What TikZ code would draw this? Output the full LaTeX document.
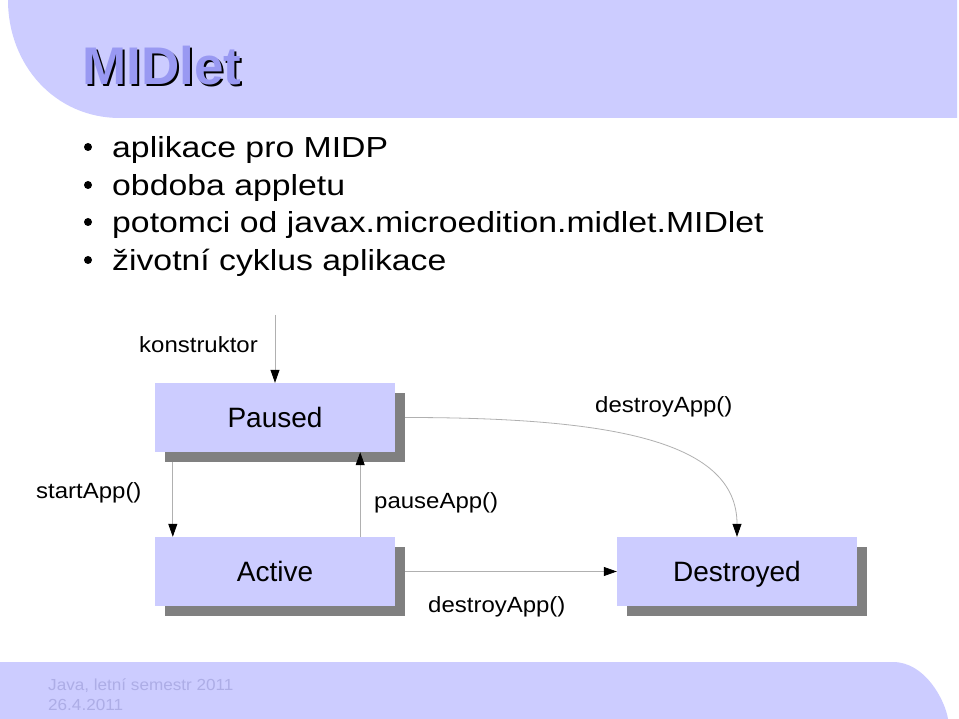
\documentclass[tikz,border=0pt]{standalone}
\usepackage{fontspec}
\setmainfont{Liberation Sans}
\newfontfamily\bulfont[FakeStretch=1.165]{Liberation Sans}
\newfontfamily\lblfont[FakeStretch=1.09]{Liberation Sans}
\newfontfamily\footfont[FakeStretch=1.07]{Liberation Sans}
\usetikzlibrary{arrows.meta,shadows}
\definecolor{band}{HTML}{CCCCFF}
\definecolor{shade}{HTML}{808080}
\definecolor{wire}{HTML}{B0B0B0}
\definecolor{titleblue}{HTML}{9999F2}
\definecolor{foottext}{HTML}{ADADE6}
\tikzset{
  statebox/.style={fill=band, minimum width=240pt, minimum height=69pt, inner sep=0pt,
    font=\fontsize{28}{30}\selectfont, text height=20pt, text depth=0pt,
    drop shadow={shadow xshift=10pt, shadow yshift=-10pt, fill=shade, opacity=1}},
  conn/.style={draw=wire, line width=0.8pt, -{Triangle[length=13pt,width=9pt,color=black]}},
  lbl/.style={inner sep=0pt, font=\lblfont\fontsize{22}{24}\selectfont, anchor=base west},
  bul/.style={inner sep=0pt, font=\bulfont\fontsize{29}{31}\selectfont, anchor=base west},
  foot/.style={inner sep=0pt, anchor=base west, font=\footfont\fontsize{16}{18}\selectfont, text=foottext}
}
\begin{document}
\begin{tikzpicture}[x=1pt,y=-1pt]
\useasboundingbox (0,0) rectangle (959,719);
\fill[white] (0,0) rectangle (959,719);
% top band
\fill[band] (8,0) -- (957,0) -- (957,118) -- (120,118) .. controls (55,118) and (8,65) .. (8,0) -- cycle;
% footer band
\fill[band] (0,662) -- (893,662) .. controls (925,662) and (945,700) .. (948,719) -- (0,719) -- cycle;
\node[foot] (f1) at (48,690) {Java, letní semestr 2011};
\node[foot] (f2) at (48,710) {26.4.2011};
% title with shadow
\node[inner sep=0pt, anchor=base west, font=\fontsize{53}{55}\selectfont\bfseries] (title) at (82,85)
  {\makebox[0pt][l]{\hspace{2pt}\raisebox{-2pt}{\color{black}MIDlet}}\textcolor{titleblue}{MIDlet}};
% bullets
\foreach \yy/\tx [count=\i] in {158/aplikace pro MIDP, 196/obdoba appletu, 233/potomci od javax.microedition.midlet.MIDlet, 271/životní cyklus aplikace}{
  \fill[black] (88,\yy-11) circle (4pt);
  \node[bul] (b\i) at (112,\yy) {\tx};
}
% states
\node[statebox] (paused) at (275,417.5) {Paused};
\node[statebox] (active) at (275,571.5) {Active};
\node[statebox] (destroyed) at (737,571.5) {Destroyed};
% connectors
\coordinate (k0) at (275,315);
\draw[conn] (k0) -- (paused.north);
\draw[conn] ([xshift=18pt,yshift=-10pt]paused.south west) -- ([xshift=18pt]active.north west);
\draw[conn] ([xshift=-35pt]active.north east) -- ([xshift=-35pt]paused.south east);
\draw[conn] ([xshift=10pt]paused.east) .. controls +(210,0) and +(0,-95) .. (destroyed.north);
\draw[conn] ([xshift=10pt]active.east) -- (destroyed.west);
% labels
\node[lbl, anchor=base east] (lk) at (258,353) {konstruktor};
\node[lbl] (ls) at (36,498) {startApp()};
\node[lbl] (lp) at (374,508) {pauseApp()};
\node[lbl] (ld1) at (595,413) {destroyApp()};
\node[lbl] (ld2) at (428,612) {destroyApp()};
\end{tikzpicture}
\end{document}
